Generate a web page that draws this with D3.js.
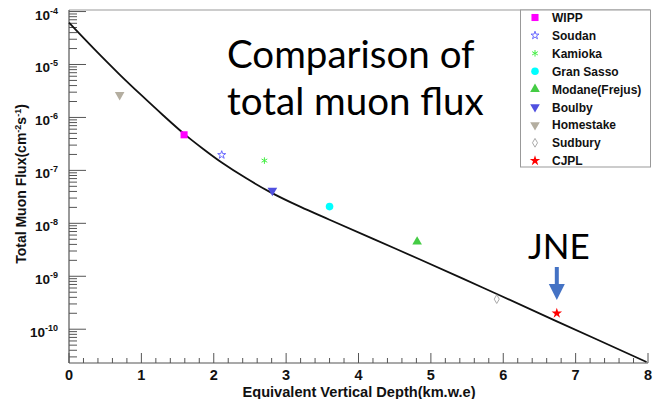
<!DOCTYPE html>
<html><head><meta charset="utf-8">
<script src="https://cdn.jsdelivr.net/npm/d3@7"></script>
<style>body{margin:0;background:#fff}svg{display:block}</style>
</head><body>
<svg id="c" width="654" height="399"></svg>
<script>
// ---- data ----
const labs    = ["WIPP","Soudan","Kamioka","Gran Sasso","Modane(Frejus)","Boulby","Homestake","Sudbury","CJPL"];
const depths  = [1.59, 2.11, 2.70, 3.60, 4.81, 2.81, 0.70, 5.91, 6.74];
const fluxes  = [4.7e-7, 1.96e-7, 1.53e-7, 2.07e-8, 4.5e-9, 4.15e-8, 2.67e-6, 3.7e-10, 2.0e-10];
const curveDepth = [0, 0.35, 0.70, 1.00, 1.30, 1.59, 1.85, 2.11, 2.45, 2.78, 3.20, 3.60, 4.53, 5.45, 5.95, 6.74, 7.98];
const curveFlux  = [6.17e-5, 1.95e-5, 6.46e-6, 2.63e-6, 1.10e-6, 4.90e-7, 2.57e-7, 1.41e-7, 7.08e-8, 3.89e-8, 2.04e-8, 1.17e-8, 3.24e-9, 8.9e-10, 4.37e-10, 1.41e-10, 2.40e-11];
const xTicks = [0,1,2,3,4,5,6,7,8];
const yExps  = [-4,-5,-6,-7,-8,-9,-10];

// ---- styles ----
const markers = [
  {type:d3.symbolSquare,  size:50, fill:"#ff00ff", stroke:"none"},
  {type:d3.symbolStar,    size:20, fill:"none",    stroke:"#6a6aff"},
  {type:d3.symbolAsterisk,size:30, fill:"none",    stroke:"#44ee44"},
  {type:d3.symbolCircle,  size:45, fill:"#00ffff", stroke:"none"},
  {type:d3.symbolTriangle,size:40, fill:"#44cc44", stroke:"none"},
  {type:d3.symbolTriangle,size:40, fill:"#5050e0", stroke:"none", rot:180},
  {type:d3.symbolTriangle,size:40, fill:"#b4aea0", stroke:"none", rot:180},
  {type:d3.symbolDiamond, size:22, fill:"none",    stroke:"#aaaaaa"},
  {type:d3.symbolStar,    size:34, fill:"#ff0000", stroke:"none"}
];

const svg = d3.select("#c");
const x = d3.scaleLinear([0,8],[69,648]);
const y = d3.scaleLog([2.3e-11,1.07e-4],[363,10]);

// frame top line
svg.append("line").attr("x1",69).attr("x2",650).attr("y1",10).attr("y2",10)
  .attr("stroke","#999").attr("stroke-width",1);

// Y axis
const ya = svg.append("g");
ya.append("line").attr("x1",69).attr("x2",69).attr("y1",10).attr("y2",363).attr("stroke","#555").attr("stroke-width",1.2);
const yminor = [];
for (let e=-11; e<=-4; e++) for (let m=1; m<=9; m++) { const v=m*Math.pow(10,e); if (v>=2.3e-11 && v<=1.07e-4) yminor.push({v,m}); }
ya.selectAll("line.t").data(yminor).join("line").attr("class","t")
  .attr("x1",69).attr("x2",d=>d.m===1?86:77)
  .attr("y1",d=>y(d.v)).attr("y2",d=>y(d.v)).attr("stroke","#555").attr("stroke-width",1);
const yl = ya.selectAll("text.yl").data(yExps).join("text").attr("class","yl")
  .attr("x",58).attr("y",d=>y(Math.pow(10,d))+8).attr("text-anchor","end")
  .attr("font-family","Liberation Sans, Arial").attr("font-weight","bold").attr("font-size",13.5).attr("fill","#111");
yl.append("tspan").text("10");
yl.append("tspan").attr("dy",-6).attr("font-size",9).text(d=>d);

// X axis
const xa = svg.append("g");
xa.append("line").attr("x1",69).attr("x2",648).attr("y1",363).attr("y2",363).attr("stroke","#555").attr("stroke-width",1.2);
const xminor = d3.range(0,41).map(i=>i/5);
xa.selectAll("line.t").data(xminor).join("line").attr("class","t")
  .attr("x1",d=>x(d)).attr("x2",d=>x(d)).attr("y1",363)
  .attr("y2",(d,i)=>i%5===0?353:358).attr("stroke","#555").attr("stroke-width",1);
xa.selectAll("text").data(xTicks).join("text").attr("x",d=>x(d)).attr("y",379.5)
  .attr("text-anchor","middle").attr("font-family","Liberation Sans, Arial").attr("font-weight","bold")
  .attr("font-size",14.5).attr("fill","#111").text(d=>d);

// axis titles
svg.append("text").attr("x",359).attr("y",396.5).attr("text-anchor","middle")
  .attr("font-family","Liberation Sans, Arial").attr("font-weight","bold").attr("font-size",14.6).attr("fill","#111")
  .text("Equivalent Vertical Depth(km.w.e)");
const yt = svg.append("text").attr("transform","translate(26,184) rotate(-90)").attr("text-anchor","middle")
  .attr("font-family","Liberation Sans, Arial").attr("font-weight","bold").attr("font-size",14).attr("fill","#111");
yt.append("tspan").text("Total Muon Flux(cm");
yt.append("tspan").attr("dy",-5).attr("font-size",9).text("-2");
yt.append("tspan").attr("dy",5).text("s");
yt.append("tspan").attr("dy",-5).attr("font-size",9).text("-1");
yt.append("tspan").attr("dy",5).text(")");

// curve
const line = d3.line().x((d,i)=>x(curveDepth[i])).y(d=>y(d)).curve(d3.curveCatmullRom.alpha(0.5));
svg.append("path").attr("d",line(curveFlux)).attr("fill","none").attr("stroke","#111").attr("stroke-width",1.8);

// points
function drawMarker(g, m, px, py){
  g.append("path").attr("d",d3.symbol(m.type,m.size)())
   .attr("transform",`translate(${px},${py})`+(m.rot?` rotate(${m.rot})`:""))
   .attr("fill",m.fill).attr("stroke",m.stroke).attr("stroke-width",1);
}
const pts = svg.append("g");
labs.forEach((l,i)=>drawMarker(pts, markers[i], x(depths[i]), y(fluxes[i])));

// legend
const lg = svg.append("g");
lg.append("rect").attr("x",520.5).attr("y",10).attr("width",130).attr("height",157)
  .attr("fill","#fff").attr("stroke","#999").attr("stroke-width",1);
labs.forEach((l,i)=>{
  const yy = 17.5 + i*17.9;
  drawMarker(lg, markers[i], 535, yy);
  lg.append("text").attr("x",552).attr("y",yy+4.5).attr("font-family","Liberation Sans, Arial")
    .attr("font-weight","bold").attr("font-size",12).attr("fill","#111").text(l);
});

// annotation title
const tt = svg.append("text").attr("font-family","Lato, Open Sans").attr("font-size",38.5).attr("fill","#000");
tt.append("tspan").attr("x",227).attr("y",68).text("Comparison of");
tt.append("tspan").attr("x",227).attr("y",115).text("total muon flux");

// JNE
svg.append("text").attr("x",528).attr("y",259).attr("font-family","Lato, Open Sans").attr("font-size",35).attr("fill","#000").text("JNE");
const ax = x(6.74);
svg.append("line").attr("x1",ax).attr("x2",ax).attr("y1",267).attr("y2",286)
  .attr("stroke","#4472c4").attr("stroke-width",4);
svg.append("path").attr("d",`M${ax-8},284 L${ax+8},284 L${ax},300 Z`).attr("fill","#4472c4");
</script>
</body></html>
